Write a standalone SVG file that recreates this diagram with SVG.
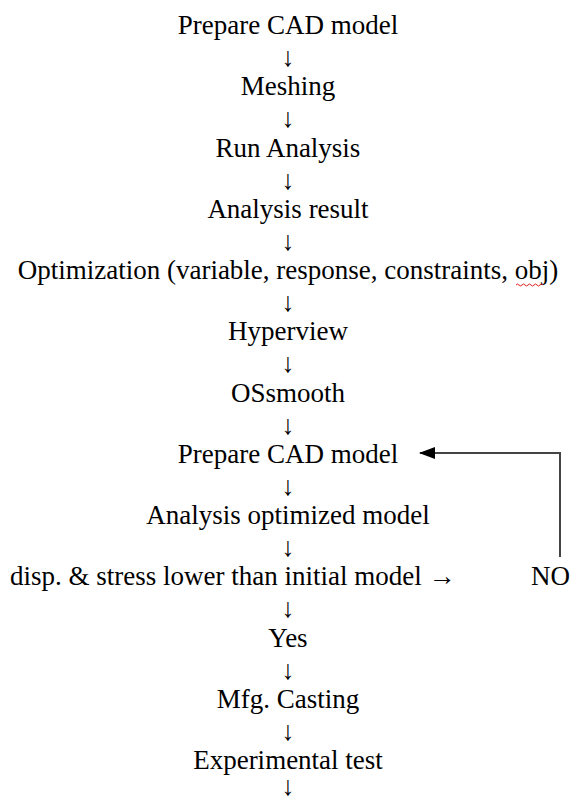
<svg xmlns="http://www.w3.org/2000/svg" width="570" height="801" viewBox="0 0 570 801">
<style>
text{font-family:"Liberation Serif","Times New Roman",serif;font-size:27px;fill:#000}
.c{text-anchor:middle}
.arr{font-size:27px;text-anchor:middle}
.fb{fill:none;stroke:#444;stroke-width:2}
</style>
<defs>
<marker id="ah" markerWidth="16" markerHeight="12" refX="15" refY="6" orient="auto" markerUnits="userSpaceOnUse">
<path d="M0,0 L16,6 L0,12 Z" fill="#000"/>
</marker>
</defs>
<rect width="570" height="801" fill="#fff"/>
<g id="n1"><text class="c" x="288" y="34">Prepare CAD model</text></g>
<g id="n2"><text class="c" x="288" y="95.25">Meshing</text></g>
<g id="n3"><text class="c" x="288" y="156.5">Run Analysis</text></g>
<g id="n4"><text class="c" x="288" y="217.75">Analysis result</text></g>
<g id="n5"><text class="c" x="288" y="279">Optimization (variable, response, constraints, obj)</text>
<path d="M516,285 q1.5,-2 3,0 t3,0 t3,0 t3,0 t3,0 t3,0 t3,0 t3,0 t3,0" fill="none" stroke="#e02020" stroke-width="1"/></g>
<g id="n6"><text class="c" x="288" y="340.25">Hyperview</text></g>
<g id="n7"><text class="c" x="288" y="401.5">OSsmooth</text></g>
<g id="n8"><text class="c" x="288" y="462.75">Prepare CAD model</text></g>
<g id="n9"><text class="c" x="288" y="524">Analysis optimized model</text></g>
<g id="n10"><text x="10" y="585.25">disp. &amp; stress lower than initial model  →</text></g>
<g id="n11"><text x="531" y="585.25">NO</text></g>
<g id="n12"><text class="c" x="288" y="646.5">Yes</text></g>
<g id="n13"><text class="c" x="288" y="707.75">Mfg. Casting</text></g>
<g id="n14"><text class="c" x="288" y="769">Experimental test</text></g>
<g id="connectors">
<text class="arr" x="288" y="66">↓</text>
<text class="arr" x="288" y="127.25">↓</text>
<text class="arr" x="288" y="188.5">↓</text>
<text class="arr" x="288" y="249.75">↓</text>
<text class="arr" x="288" y="311">↓</text>
<text class="arr" x="288" y="372.25">↓</text>
<text class="arr" x="288" y="433.5">↓</text>
<text class="arr" x="288" y="494.75">↓</text>
<text class="arr" x="288" y="556">↓</text>
<text class="arr" x="288" y="617.25">↓</text>
<text class="arr" x="288" y="678.5">↓</text>
<text class="arr" x="288" y="739.75">↓</text>
<text class="arr" x="288" y="795">↓</text>
<polyline class="fb" points="560,557 560,453 420,453" marker-end="url(#ah)"/>
</g>
</svg>
